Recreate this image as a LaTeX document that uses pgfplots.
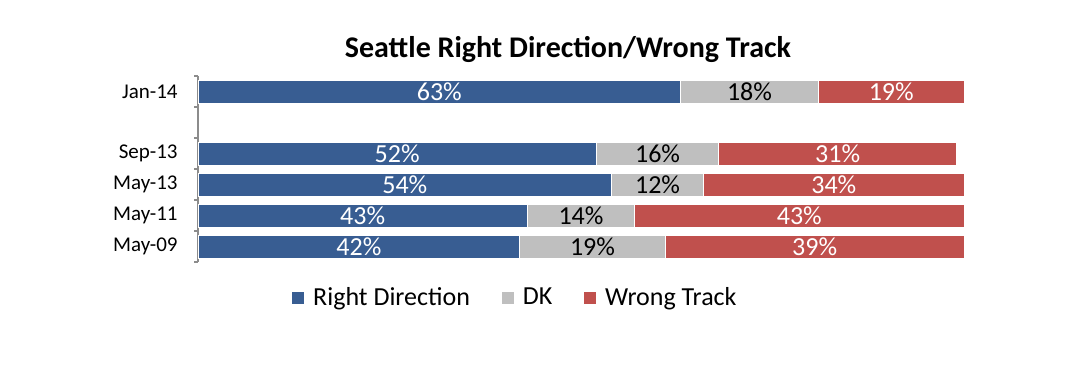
\documentclass[border=0pt]{standalone}
\usepackage{pgfplots}
\usepackage{pgfplotstable}
\pgfplotsset{compat=1.18}
\usepackage{fontspec}
\setmainfont{Carlito}
\definecolor{rdblue}{HTML}{385D92}
\definecolor{dkgray}{HTML}{BFBFBF}
\definecolor{wtred}{HTML}{C0504D}
\definecolor{axgray}{HTML}{8C8C8C}

\pgfplotstableread{
y rd dk wt
0 42 19 39
1 43 14 43
2 54 12 34
3 52 16 31
5 63 18 19
}\datatable

\begin{document}
\begin{tikzpicture}
\begin{axis}[
  name=ax,
  scale only axis,
  width=383pt, height=93pt,
  xmin=0, xmax=100,
  ymin=-0.5, ymax=5.5,
  hide x axis,
  axis y line*=left,
  y axis line style={axgray, line width=0.6pt},
  ytick={0,1,2,3,5},
  yticklabels={May-09,May-11,May-13,Sep-13,Jan-14},
  major tick length=0pt,
  minor ytick={-0.5,0.5,1.5,2.5,3.5,4.5,5.5},
  minor tick length=2pt,
  tick align=outside,
  minor tick style={axgray, line width=0.6pt},
  yticklabel style={font=\fontsize{10.5}{12}\selectfont, inner sep=0pt, xshift=-10pt},
  /pgf/number format/assume math mode=true,
  clip=false,
  reverse legend,
  legend columns=3,
  legend style={at={(0.4125,-0.1935)}, anchor=center, draw=none, fill=none,
    font=\fontsize{13}{15}\selectfont,
    nodes={inner sep=0pt},
    /tikz/every odd column/.append style={column sep=4pt},
    /tikz/every even column/.append style={column sep=15.5pt}},
  legend image code/.code={\fill[#1] (0pt,-3.25pt) rectangle (6.5pt,3.25pt);},
  label plot/.style={forget plot, only marks, mark=*, mark size=0pt,
    mark options={draw=none, fill=none},
    nodes near coords={\pgfmathprintnumber[assume math mode=true]{\pgfplotspointmeta}\%},
    point meta=explicit,
    nodes near coords align={anchor=center},
    every node near coord/.append style={font=\fontsize{13}{15}\selectfont, inner sep=0pt, anchor=center}},
]
\addplot[xbar, bar width=11.5pt, fill=wtred, draw=white, line width=0.4pt]
  table[x expr=\thisrow{rd}+\thisrow{dk}+\thisrow{wt}, y=y]{\datatable};
\addplot[xbar, bar width=11.5pt, fill=dkgray, draw=white, line width=0.4pt]
  table[x expr=\thisrow{rd}+\thisrow{dk}, y=y]{\datatable};
\addplot[xbar, bar width=11.5pt, fill=rdblue, draw=white, line width=0.4pt]
  table[x=rd, y=y]{\datatable};
\legend{Wrong Track, DK, Right Direction}

\addplot[label plot, every node near coord/.append style={text=white}]
  table[x expr=\thisrow{rd}/2, y=y, meta=rd]{\datatable};
\addplot[label plot, every node near coord/.append style={text=black}]
  table[x expr=\thisrow{rd}+\thisrow{dk}/2, y=y, meta=dk]{\datatable};
\addplot[label plot, every node near coord/.append style={text=white}]
  table[x expr=\thisrow{rd}+\thisrow{dk}+\thisrow{wt}/2, y=y, meta=wt]{\datatable};

\node[font=\fontsize{15}{18}\selectfont\bfseries, anchor=center]
  at ([yshift=13.5pt]rel axis cs:0.483,1) {Seattle Right Direction/Wrong Track};
\end{axis}
\pgfresetboundingbox
\path[use as bounding box] ([xshift=-99pt,yshift=-57.5pt]ax.south west) rectangle ([xshift=58pt,yshift=38pt]ax.north east);
\end{tikzpicture}
\end{document}
